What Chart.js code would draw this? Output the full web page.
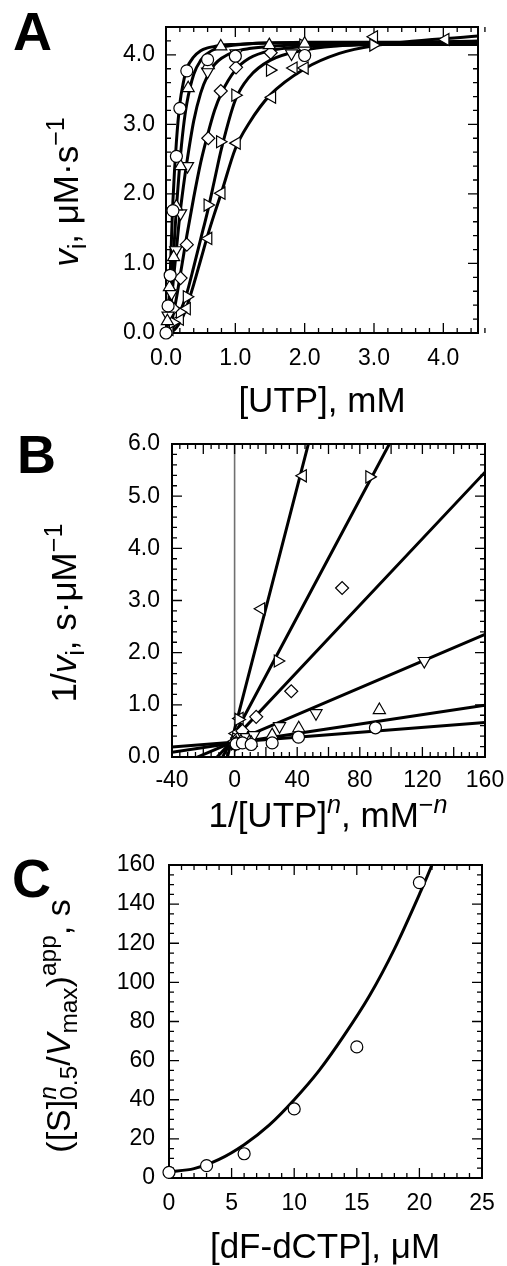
<!DOCTYPE html>
<html>
<head>
<meta charset="utf-8">
<script src="https://cdn.jsdelivr.net/npm/chart.js@4.4.1/dist/chart.umd.min.js"></script>
<style>
  body { margin: 0; background: #fff; }
  canvas { position: absolute; left: 0; }
</style>
</head>
<body>
<canvas id="chartA" width="507" height="430" style="top:0"></canvas>
<canvas id="chartB" width="507" height="420" style="top:430px"></canvas>
<canvas id="chartC" width="507" height="416" style="top:850px"></canvas>
<script>
// ---- Panel A: v_i vs [UTP] (mM), six dF-dCTP levels ----
const aCircleX = [0, 0.03, 0.06, 0.1, 0.15, 0.2, 0.3, 0.6, 1.0, 2.0];
const aCircleY = [0, 0.39, 0.83, 1.76, 2.54, 3.23, 3.77, 3.93, 3.98, 3.99];
const aUpX = [0.02, 0.05, 0.11, 0.15, 0.21, 0.32, 0.61, 0.79, 1.49, 2.0];
const aUpY = [0.17, 0.66, 1.09, 1.82, 2.40, 3.52, 3.85, 4.12, 4.14, 4.16];
const aDownX = [0.03, 0.08, 0.14, 0.21, 0.31, 0.6, 1.01, 1.81];
const aDownY = [0.25, 0.57, 1.19, 1.72, 2.40, 3.76, 4.02, 4.02];
const aDiamondX = [0.1, 0.21, 0.3, 0.61, 0.79, 1.01, 1.51, 2.0];
const aDiamondY = [0.35, 0.79, 1.27, 2.80, 3.48, 3.82, 4.03, 4.10];
const aRightX = [0.1, 0.2, 0.3, 0.6, 0.78, 1.0, 1.5, 1.98, 2.99];
const aRightY = [0.15, 0.3, 0.52, 1.84, 2.75, 3.42, 3.78, 4.14, 4.14];
const aLeftX = [0.05, 0.2, 0.3, 0.61, 0.8, 1.02, 1.53, 1.84, 2.0, 3.0, 4.03];
const aLeftY = [0.05, 0.2, 0.35, 1.36, 2.01, 2.73, 3.39, 3.81, 3.81, 4.26, 4.22];

// fitted curves
const aFitX = [0, 0.05, 0.1, 0.15, 0.2, 0.25, 0.3, 0.4, 0.5, 0.6, 0.7, 0.8, 1.0, 1.2, 1.5, 2.0, 2.5, 3.0, 4.5];
const aFitCircle = [0, 0.6, 1.9, 2.75, 3.3, 3.6, 3.8, 3.97, 4.06, 4.1, 4.12, 4.14, 4.15, 4.16, 4.17, 4.17, 4.17, 4.17, 4.17];
const aFitUp = [0, 0.3, 1.0, 1.8, 2.45, 2.95, 3.3, 3.72, 3.92, 4.02, 4.08, 4.11, 4.14, 4.16, 4.17, 4.18, 4.18, 4.18, 4.18];
const aFitDown = [0, 0.2, 0.7, 1.2, 1.7, 2.1, 2.45, 3.05, 3.45, 3.7, 3.86, 3.95, 4.05, 4.09, 4.12, 4.14, 4.14, 4.15, 4.15];
const aFitDiamond = [0, 0.05, 0.25, 0.5, 0.8, 1.1, 1.4, 1.95, 2.45, 2.85, 3.2, 3.45, 3.78, 3.95, 4.06, 4.12, 4.14, 4.15, 4.15];
const aFitRight = [0, 0.02, 0.08, 0.18, 0.3, 0.42, 0.57, 0.95, 1.35, 1.75, 2.2, 2.65, 3.35, 3.68, 3.92, 4.07, 4.13, 4.16, 4.2];
const aFitLeft = [0, 0.01, 0.03, 0.08, 0.15, 0.25, 0.38, 0.7, 1.05, 1.4, 1.72, 2.02, 2.65, 3.02, 3.42, 3.8, 4.02, 4.13, 4.27];

// ---- Panel B: 1/v_i vs 1/[UTP]^n ----
const bCircleX = [1, 5, 10.6, 24, 40.8, 90];
const bCircleY = [0.25, 0.27, 0.24, 0.27, 0.38, 0.56];
const bUpX = [1, 4, 10.6, 24, 41, 92.5];
const bUpY = [0.27, 0.3, 0.27, 0.42, 0.55, 0.9];
const bDownX = [1.5, 6, 12.3, 28.7, 52, 121.2];
const bDownY = [0.3, 0.38, 0.42, 0.59, 0.84, 1.84];
const bDiamondX = [0.5, 2, 5, 13.8, 36.2, 68.7];
const bDiamondY = [0.24, 0.35, 0.5, 0.77, 1.26, 3.24];
const bRightX = [0.3, 1, 2.5, 27.6, 86.1];
const bRightY = [0.25, 0.35, 0.72, 1.84, 5.37];
const bLeftX = [0.2, 0.8, 3.2, 17, 43.6];
const bLeftY = [0.3, 0.45, 0.74, 2.84, 5.39];
// straight fits, values at x = -40 and x = 160
const bLineX = [-40, 160];
const bLineCircle = [0.19, 0.66];
const bLineUp = [0.09, 0.99];
const bLineDown = [-0.21, 2.35];
const bLineDiamond = [-0.92, 5.46];
const bLineRight = [-1.82, 9.44];
const bLineLeft = [-4.11, 19.1];

// ---- Panel C: ([S]^n_0.5/Vmax)app vs [dF-dCTP] ----
const cX = [0, 3, 6, 10, 15, 20];
const cY = [2.9, 6.3, 12.4, 35.3, 67, 151];
const cFitX = [0, 2, 4, 6, 8, 10, 12, 14, 16, 18, 20, 21, 21.4];
const cFitY = [3.2, 4.8, 9.5, 17, 27, 40, 55, 73, 93, 117, 145, 160, 167];

const FONT = "'Liberation Sans', Arial, Helvetica, sans-serif";
const TICK_SIZE = 23;
const TITLE_SIZE = 35;

function pts(xs, ys) {
  return xs.map((x, i) => ({ x: x, y: ys[i] }));
}

function markers(xs, ys, style, rot, r) {
  return {
    data: pts(xs, ys),
    showLine: false,
    pointStyle: style,
    pointRotation: rot || 0,
    pointRadius: r || 6,
    pointBackgroundColor: '#fff',
    pointBorderColor: '#000',
    pointBorderWidth: 1.2,
    clip: false,
    order: 1
  };
}

function curve(xs, ys, w) {
  return {
    data: pts(xs, ys),
    showLine: true,
    borderColor: '#000',
    borderWidth: w || 3,
    pointRadius: 0,
    cubicInterpolationMode: 'monotone',
    order: 2
  };
}

// text with italic / sub / superscript pieces, centred on origin, baseline y = 0
function drawRich(ctx, segs, size) {
  const small = size * 0.72;
  const font = (s, it) => (it ? 'italic ' : '') + s + 'px ' + FONT;
  let total = 0;
  const widths = segs.map(sg => {
    let w;
    if (sg.stack) {
      ctx.font = font(small, true);
      const w1 = ctx.measureText(sg.stack[0]).width;
      ctx.font = font(small, false);
      const w2 = ctx.measureText(sg.stack[1]).width;
      w = Math.max(w1, w2);
    } else {
      ctx.font = font(sg.sub || sg.sup ? small : size, sg.it);
      w = ctx.measureText(sg.t).width;
    }
    total += w;
    return w;
  });
  let x = -total / 2;
  ctx.textAlign = 'left';
  ctx.textBaseline = 'alphabetic';
  segs.forEach((sg, i) => {
    if (sg.stack) {
      ctx.font = font(small, true);
      ctx.fillText(sg.stack[0], x, -size * 0.4);
      ctx.font = font(small, false);
      ctx.fillText(sg.stack[1], x, size * 0.22);
    } else {
      ctx.font = font(sg.sub || sg.sup ? small : size, sg.it);
      const dy = sg.sup ? -size * 0.4 : (sg.sub ? size * 0.22 : 0);
      ctx.fillText(sg.t, x, dy);
    }
    x += widths[i];
  });
}

function isMajor(v, major) {
  const q = v / major;
  return Math.abs(q - Math.round(q)) < 1e-6;
}

const framePlugin = {
  id: 'frame',
  beforeDatasetsDraw(chart, args, o) {
    const ctx = chart.ctx, a = chart.chartArea;
    const xs = chart.scales.x, ys = chart.scales.y;
    ctx.save();
    if (o.zeroLine) {
      const p = xs.getPixelForValue(0);
      ctx.strokeStyle = '#707070';
      ctx.lineWidth = 1.6;
      ctx.beginPath();
      ctx.moveTo(p, a.top);
      ctx.lineTo(p, a.bottom);
      ctx.stroke();
    }
    ctx.strokeStyle = '#000';
    ctx.lineWidth = 1.3;
    ctx.beginPath();
    let n = Math.round((xs.max - xs.min) / o.xMinor);
    for (let i = 0; i <= n; i++) {
      const v = xs.min + i * o.xMinor;
      const p = xs.getPixelForValue(v);
      const len = isMajor(v, o.xMajor) ? 10 : 5;
      ctx.moveTo(p, a.bottom); ctx.lineTo(p, a.bottom - len);
      ctx.moveTo(p, a.top); ctx.lineTo(p, a.top + len);
    }
    n = Math.round((ys.max - ys.min) / o.yMinor);
    for (let i = 0; i <= n; i++) {
      const v = ys.min + i * o.yMinor;
      const p = ys.getPixelForValue(v);
      const len = isMajor(v, o.yMajor) ? 10 : 5;
      ctx.moveTo(a.left, p); ctx.lineTo(a.left + len, p);
      ctx.moveTo(a.right, p); ctx.lineTo(a.right - len, p);
    }
    ctx.stroke();
    ctx.lineWidth = 2;
    ctx.strokeRect(a.left, a.top, a.right - a.left, a.bottom - a.top);
    ctx.restore();
  },
  afterDraw(chart, args, o) {
    const ctx = chart.ctx;
    ctx.save();
    ctx.fillStyle = '#000';
    ctx.font = 'bold 54px ' + FONT;
    ctx.textAlign = 'left';
    ctx.textBaseline = 'alphabetic';
    ctx.fillText(o.letter, o.letterX, o.letterY);
    ctx.save();
    ctx.translate(o.xTitleX, o.xTitleY);
    drawRich(ctx, o.xTitle, TITLE_SIZE);
    ctx.restore();
    ctx.save();
    ctx.translate(o.yTitleX, o.yTitleY);
    ctx.rotate(-Math.PI / 2);
    drawRich(ctx, o.yTitle, o.yTitleSize || TITLE_SIZE);
    ctx.restore();
    ctx.restore();
  }
};

// fixed axis boxes so the plot frame lands where the reference has it
function fixX(h) {
  return s => { s.height = h; s.paddingLeft = 0; s.paddingRight = 0; };
}
function fixY(w) {
  return s => { s.width = w; s.paddingTop = 0; s.paddingBottom = 0; };
}

function makePanel(id, cfg) {
  const tickFont = { family: FONT, size: TICK_SIZE };
  new Chart(document.getElementById(id), {
    type: 'scatter',
    data: { datasets: cfg.datasets },
    options: {
      responsive: false,
      animation: false,
      layout: { padding: { left: 0, top: cfg.top, right: cfg.right, bottom: 0 } },
      plugins: {
        legend: { display: false },
        tooltip: { enabled: false },
        frame: cfg.frame
      },
      scales: {
        x: {
          type: 'linear', min: cfg.xMin, max: cfg.xMax,
          afterFit: fixX(cfg.xHeight),
          grid: { display: false, drawTicks: false },
          border: { display: false },
          ticks: {
            stepSize: cfg.xStep, includeBounds: false, padding: cfg.xPad,
            font: tickFont, color: '#000', maxRotation: 0, autoSkip: false,
            callback: cfg.xFmt
          }
        },
        y: {
          type: 'linear', min: cfg.yMin, max: cfg.yMax,
          afterFit: fixY(cfg.yWidth),
          grid: { display: false, drawTicks: false },
          border: { display: false },
          ticks: {
            stepSize: cfg.yStep, includeBounds: false, padding: cfg.yPad,
            font: tickFont, color: '#000', autoSkip: false,
            callback: cfg.yFmt
          }
        }
      }
    },
    plugins: [framePlugin]
  });
}

const oneDec = v => v.toFixed(1);
const plain = v => String(v);

makePanel('chartA', {
  datasets: [
    markers(aCircleX, aCircleY, 'circle', 0, 6),
    markers(aUpX, aUpY, 'triangle', 0, 7),
    markers(aDownX, aDownY, 'triangle', 180, 7),
    markers(aDiamondX, aDiamondY, 'rectRot', 0, 6.5),
    markers(aRightX, aRightY, 'triangle', 90, 7),
    markers(aLeftX, aLeftY, 'triangle', 270, 7),
    curve(aFitX, aFitCircle), curve(aFitX, aFitUp), curve(aFitX, aFitDown),
    curve(aFitX, aFitDiamond), curve(aFitX, aFitRight), curve(aFitX, aFitLeft)
  ],
  top: 27, right: 29, xHeight: 97, yWidth: 166,
  xMin: 0, xMax: 4.5, xStep: 1, xPad: 12, xFmt: oneDec,
  yMin: 0, yMax: 4.4, yStep: 1, yPad: 11, yFmt: oneDec,
  frame: {
    xMinor: 0.2, xMajor: 1, yMinor: 0.2, yMajor: 1,
    letter: 'A', letterX: 13, letterY: 50,
    xTitle: [{ t: '[UTP], mM' }], xTitleX: 322, xTitleY: 412,
    yTitle: [{ t: 'v', it: true }, { t: 'i', sub: true }, { t: ', μM·s' }, { t: '−1', sup: true }],
    yTitleX: 78, yTitleY: 192
  }
});

makePanel('chartB', {
  datasets: [
    markers(bCircleX, bCircleY, 'circle', 0, 6),
    markers(bUpX, bUpY, 'triangle', 0, 7),
    markers(bDownX, bDownY, 'triangle', 180, 7),
    markers(bDiamondX, bDiamondY, 'rectRot', 0, 6.5),
    markers(bRightX, bRightY, 'triangle', 90, 7),
    markers(bLeftX, bLeftY, 'triangle', 270, 7),
    curve(bLineX, bLineCircle), curve(bLineX, bLineUp), curve(bLineX, bLineDown),
    curve(bLineX, bLineDiamond), curve(bLineX, bLineRight), curve(bLineX, bLineLeft)
  ],
  top: 14, right: 22, xHeight: 93, yWidth: 172,
  xMin: -40, xMax: 160, xStep: 40, xPad: 10, xFmt: plain,
  yMin: 0, yMax: 6, yStep: 1, yPad: 12, yFmt: oneDec,
  frame: {
    xMinor: 5, xMajor: 20, yMinor: 0.2, yMajor: 1, zeroLine: true,
    letter: 'B', letterX: 17, letterY: 43,
    xTitle: [{ t: '1/[UTP]' }, { t: 'n', sup: true, it: true }, { t: ', mM' }, { t: '−', sup: true }, { t: 'n', sup: true, it: true }],
    xTitleX: 328, xTitleY: 397,
    yTitle: [{ t: '1/' }, { t: 'v', it: true }, { t: 'i', sub: true }, { t: ', s·μM' }, { t: '−1', sup: true }],
    yTitleX: 76, yTitleY: 183
  }
});

makePanel('chartC', {
  datasets: [
    markers(cX, cY, 'circle', 0, 6),
    curve(cFitX, cFitY)
  ],
  top: 15, right: 25, xHeight: 88, yWidth: 169,
  xMin: 0, xMax: 25, xStep: 5, xPad: 12, xFmt: plain,
  yMin: 0, yMax: 160, yStep: 20, yPad: 14, yFmt: plain,
  frame: {
    xMinor: 1, xMajor: 5, yMinor: 5, yMajor: 20,
    letter: 'C', letterX: 12, letterY: 47,
    xTitle: [{ t: '[dF-dCTP], μM' }], xTitleX: 325, xTitleY: 408,
    yTitle: [{ t: '([S]' }, { stack: ['n', '0.5'] }, { t: '/' }, { t: 'V', it: true }, { t: 'max', sub: true },
             { t: ')' }, { t: 'app', sup: true }, { t: ', s' }],
    yTitleX: 70, yTitleY: 176, yTitleSize: 34
  }
});
</script>
</body>
</html>
